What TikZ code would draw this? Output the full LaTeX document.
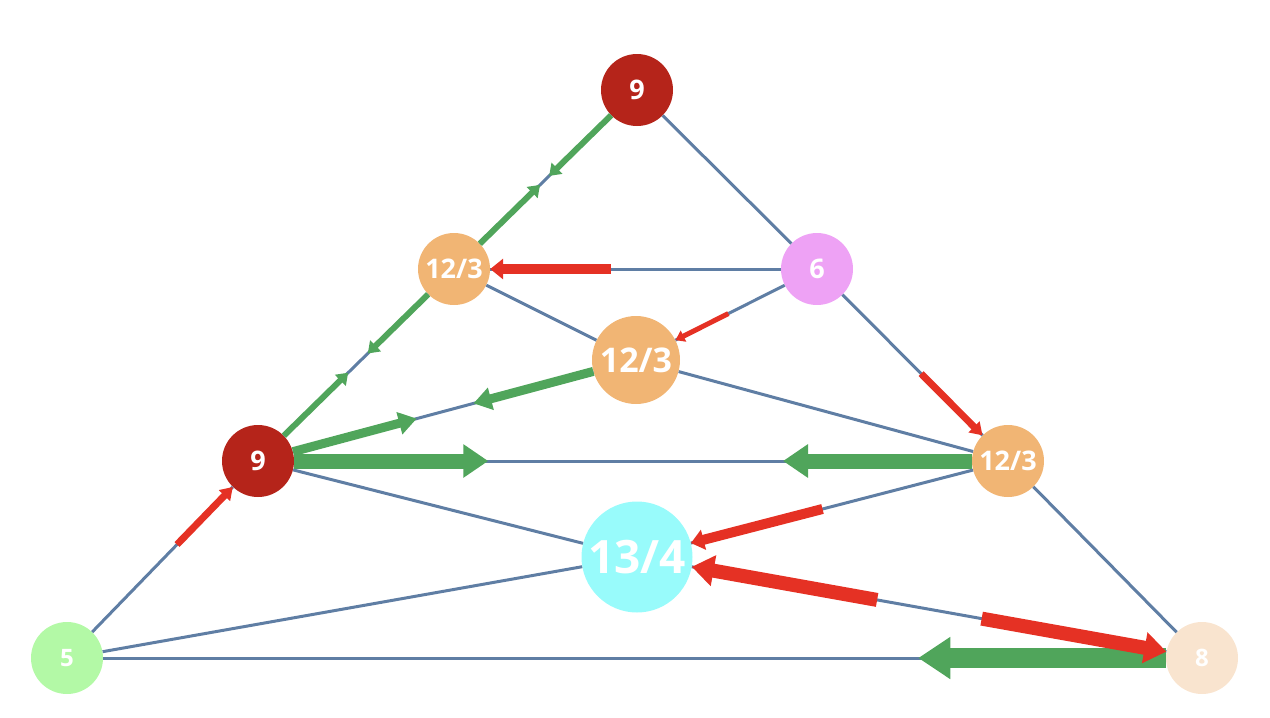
\documentclass[tikz,border=0pt]{standalone}
\usepackage{fontspec}
\setmainfont{Open Sans}
\usetikzlibrary{arrows.meta,calc}
\definecolor{dred}{HTML}{B5241A}
\definecolor{orng}{HTML}{F1B574}
\definecolor{pnk}{HTML}{EEA2F5}
\definecolor{cyn}{HTML}{98FBFB}
\definecolor{lgrn}{HTML}{B3F9A6}
\definecolor{bsq}{HTML}{F9E4CF}
\definecolor{edgeblue}{HTML}{5F7EA4}
\definecolor{arrgreen}{HTML}{50A55B}
\definecolor{arrred}{HTML}{E53124}
\tikzset{
  nd/.style={circle,inner sep=0pt,minimum size=72pt,text=white,font=\bfseries\fontsize{27}{27}\selectfont},
  edge/.style={draw=edgeblue,line width=3pt},
  gs/.style={draw=arrgreen,line width=6pt,-{Triangle[length=11pt,width=15pt]}},
  gm/.style={draw=arrgreen,line width=9pt,-{Triangle[length=18pt,width=22pt]}},
  gl/.style={draw=arrgreen,line width=15pt,-{Triangle[length=25pt,width=32pt]}},
  gx/.style={draw=arrgreen,line width=20pt,-{Triangle[length=32pt,width=40pt]}},
  rs/.style={draw=arrred,line width=5pt,-{Triangle[length=9pt,width=12pt]}},
  rm/.style={draw=arrred,line width=7pt,-{Triangle[length=12pt,width=15pt]}},
  rn/.style={draw=arrred,line width=10pt,-{Triangle[length=13pt,width=20pt]}},
  rl/.style={draw=arrred,line width=14pt,-{Triangle[length=22pt,width=30pt]}}
}
\begin{document}
\begin{tikzpicture}[x=1pt,y=-1pt]
\useasboundingbox (0,0) rectangle (1270,718);
% nodes
\node[nd,fill=dred] (T) at (637,90) {9};
\node[nd,fill=orng] (L1) at (454,269) {12/3};
\node[nd,fill=pnk] (R1) at (817,269) {6};
\node[nd,fill=orng,minimum size=88pt,font=\bfseries\fontsize{34}{34}\selectfont] (C) at (636,360) {12/3};
\node[nd,fill=dred] (L2) at (258,461) {9};
\node[nd,fill=orng] (R2) at (1008,461) {12/3};
\node[nd,fill=cyn,minimum size=111pt,font=\bfseries\fontsize{46}{46}\selectfont] (M) at (637,557) {13/4};
\node[nd,fill=lgrn,font=\bfseries\fontsize{24}{24}\selectfont] (BL) at (67,658) {5};
\node[nd,fill=bsq,font=\bfseries\fontsize{24}{24}\selectfont] (BR) at (1202,658) {8};
% edges
\draw[edge] (T) -- (L1);
\draw[edge] (T) -- (R1);
\draw[edge] (L1) -- (R1);
\draw[edge] (L1) -- (C);
\draw[edge] (R1) -- (C);
\draw[edge] (R1) -- (R2);
\draw[edge] (L1) -- (L2);
\draw[edge] (C) -- (L2);
\draw[edge] (C) -- (R2);
\draw[edge] (L2) -- (R2);
\draw[edge] (L2) -- (M);
\draw[edge] (BL) -- (L2);
\draw[edge] (BL) -- (M);
\draw[edge] (BL) -- (BR);
\draw[edge] (R2) -- (M);
\draw[edge] (R2) -- (BR);
\draw[edge] (M) -- (BR);
% green arrows
\draw[gs] (T) -- ($(T)!0.48!(L1)$);
\draw[gs] (L1) -- ($(L1)!0.47!(T)$);
\draw[gs] (L1) -- ($(L1)!0.44!(L2)$);
\draw[gs] (L2) -- ($(L2)!0.46!(L1)$);
\draw[gm] (C) -- ($(C)!0.43!(L2)$);
\draw[gm] (L2) -- ($(L2)!0.42!(C)$);
\draw[gl] (L2) -- ($(L2)!0.307!(R2)$);
\draw[gl] (R2) -- ($(R2)!0.30!(L2)$);
\draw[gx] (BR) -- ($(BR)!0.25!(BL)$);
% red arrows
\draw[rn] ($(R1)!0.567!(L1)$) -- (L1);
\draw[rs] ($(R1)!0.49!(C)$) -- (C);
\draw[rm] ($(R1)!0.545!(R2)$) -- (R2);
\draw[rm] ($(BL)!0.576!(L2)$) -- (L2);
\draw[rn] ($(R2)!0.5!(M)$) -- (M);
\draw[rl] ($(M)!0.425!(BR)$) -- (M);
\draw[rl] ($(M)!0.61!(BR)$) -- (BR);
\end{tikzpicture}
\end{document}
